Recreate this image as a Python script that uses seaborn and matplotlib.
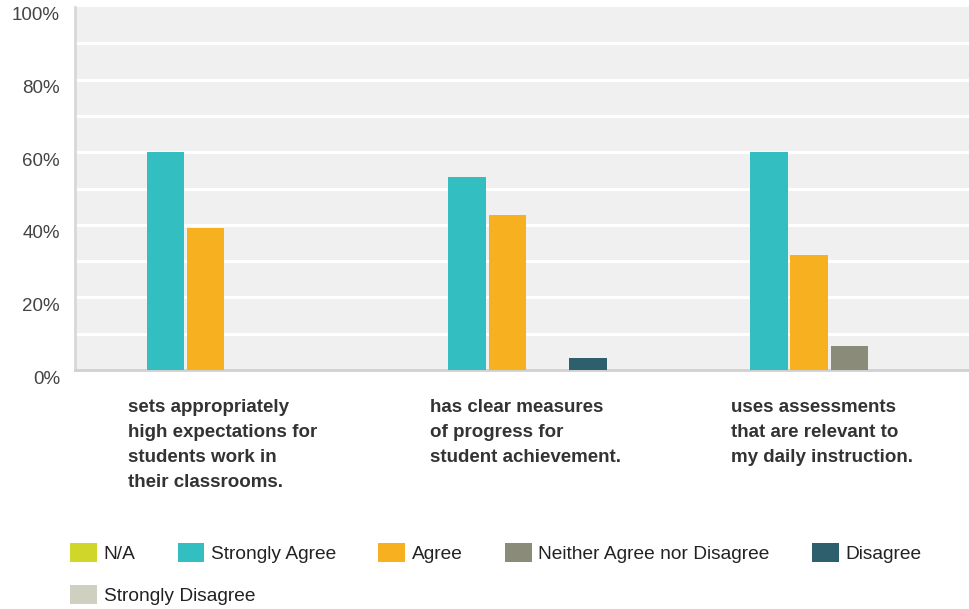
import pandas as pd
import matplotlib.pyplot as plt
import seaborn as sns
from matplotlib.patches import Patch
from matplotlib.transforms import ScaledTranslation

# survey questions and response shares (%)
questions = [
    "sets appropriately\nhigh expectations for\nstudents work in\ntheir classrooms.",
    "has clear measures\nof progress for\nstudent achievement.",
    "uses assessments\nthat are relevant to\nmy daily instruction.",
]
responses = ["N/A", "Strongly Agree", "Agree", "Neither Agree nor Disagree",
             "Disagree", "Strongly Disagree"]
colors = ["#d0d62a", "#33bec1", "#f7b020", "#8b8b7a", "#2e5f6d", "#d0d0c0"]

na = [0, 0, 0]
strongly_agree = [60.0, 53.3, 60.0]
agree = [39.2, 42.8, 31.6]
neither = [0, 0, 6.5]
disagree = [0, 3.3, 0]
strongly_disagree = [0, 0, 0]

series = [na, strongly_agree, agree, neither, disagree, strongly_disagree]
rows = []
for resp, vals in zip(responses, series):
    for q, v in zip(questions, vals):
        rows.append({"question": q, "response": resp, "pct": v})
df = pd.DataFrame(rows)

sns.set_theme(style="white")
plt.rcParams["font.family"] = ["Liberation Sans", "DejaVu Sans"]

fig = plt.figure(figsize=(9.69, 6.09), dpi=100)
ax = fig.add_axes([75 / 969, 1 - 370 / 609, 894 / 969, 363 / 609])
ax.set_facecolor("#f0f0f0")

sns.barplot(data=df, x="question", y="pct", hue="response",
            hue_order=responses, order=questions, palette=colors,
            saturation=1, width=0.8, gap=0.07, linewidth=0,
            legend=False, ax=ax, zorder=3)

ax.set_xlim(-0.5, -0.5 + 895 / 302)
ax.set_ylim(0, 100)
for y in range(10, 100, 10):
    ax.axhline(y, color="white", lw=2.2, zorder=1)

# y tick labels sit a little below their gridlines
ax.set_yticks([])
off = ScaledTranslation(-0.15, -9 / 100, fig.dpi_scale_trans)
for v in range(0, 101, 20):
    ax.text(0, v, f"{v}%", transform=ax.get_yaxis_transform() + off,
            ha="right", va="center", fontsize=13.5, color="#444444")

ax.set_xticks([])
ax.set_xlabel("")
ax.set_ylabel("")
for s in ["top", "right"]:
    ax.spines[s].set_visible(False)
ax.spines["left"].set_color("#d8d8d8")
ax.spines["left"].set_linewidth(2)
ax.spines["bottom"].set_color("#d0d0d0")
ax.spines["bottom"].set_linewidth(2)

# category labels below the axis
for i, q in enumerate(questions):
    ax.text(i - 98 / 302, -0.08, q, transform=ax.get_xaxis_transform(),
            ha="left", va="top", fontsize=13.5, fontweight="bold",
            color="#333333", linespacing=1.62)

handles = [Patch(facecolor=c, edgecolor="none") for c in colors]
kw = dict(frameon=False, fontsize=13.75, handlelength=1.4, handleheight=1.1,
          handletextpad=0.36, columnspacing=2.2, borderaxespad=0, borderpad=0,
          labelcolor="#222222")
leg1 = fig.legend(handles[:5], responses[:5], ncol=5, loc="center left",
                  bbox_to_anchor=(70 / 969, 1 - 553 / 609), **kw)
leg2 = fig.legend(handles[5:], responses[5:], ncol=1, loc="center left",
                  bbox_to_anchor=(70 / 969, 1 - 595 / 609), **kw)

fig.savefig("out.png", dpi=100)
